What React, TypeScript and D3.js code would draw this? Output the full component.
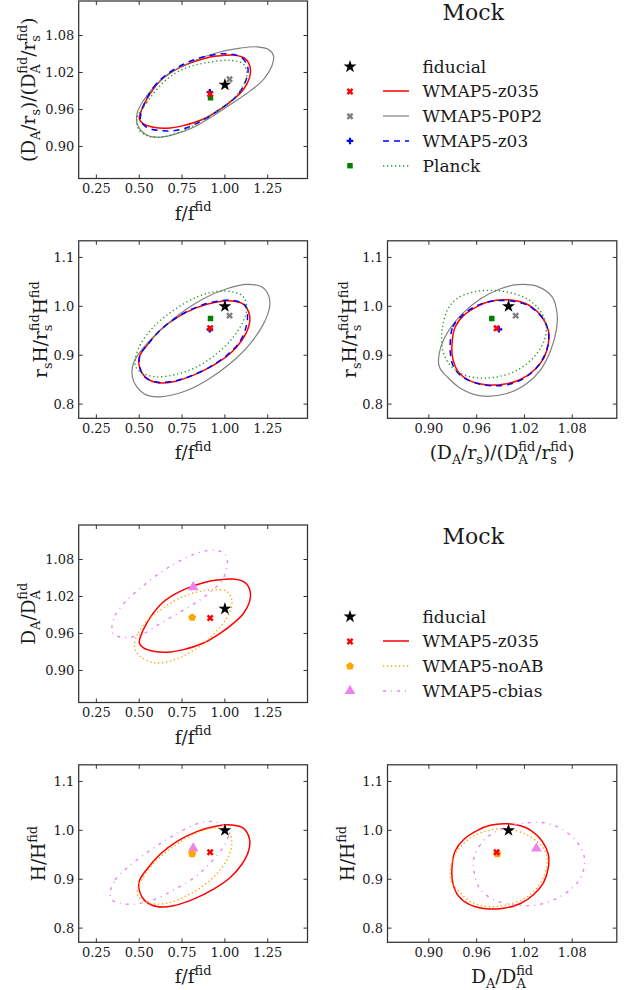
import React from 'react';
import * as d3 from 'd3';

type Pt = [number, number];

// ---- axis ranges and ticks ----
const fDomain: [number, number] = [0.147, 1.482];
const dDomain: [number, number] = [0.848, 1.136];
const hDomain: [number, number] = [0.771, 1.134];
const fTicks = [0.25, 0.5, 0.75, 1.0, 1.25];
const dTicks = [0.9, 0.96, 1.02, 1.08];
const hTicks = [0.8, 0.9, 1.0, 1.1];

// ---- best-fit points: [f/f_fid, D_A ratio, H ratio] ----
const fiducialPt = [1.0, 1.0, 1.0];
const z035Pt = [0.914, 0.985, 0.955];
const p0p2Pt = [1.027, 1.009, 0.981];
const z03Pt = [0.912, 0.988, 0.953];
const planckPt = [0.916, 0.979, 0.975];
const noabPt = [0.809, 0.986, 0.952];
const cbiasPt = [0.815, 1.035, 0.963];

// ---- 1-sigma contours in each plane ----
const z035_fD: Pt[] = [
  [0.505, 0.9526], [0.544, 0.9768], [0.622, 1.0063], [0.700, 1.0225], [0.778, 1.0332],
  [0.875, 1.0424], [0.953, 1.0467], [1.050, 1.0483], [1.118, 1.0424], [1.148, 1.0279],
  [1.144, 1.0117], [1.109, 0.9929], [1.051, 0.9768], [0.974, 0.9606], [0.875, 0.9445],
  [0.758, 0.9338], [0.661, 0.9295], [0.583, 0.9311], [0.525, 0.9365], [0.501, 0.9445],
];
const z035_fH: Pt[] = [
  [0.501, 0.8966], [0.544, 0.920], [0.622, 0.951], [0.719, 0.9769], [0.836, 0.9973],
  [0.953, 1.0088], [1.040, 1.0109], [1.109, 1.0041], [1.144, 0.9816], [1.138, 0.9578],
  [1.099, 0.9306], [1.031, 0.9034], [0.934, 0.8796], [0.817, 0.8592], [0.700, 0.8456],
  [0.602, 0.8442], [0.534, 0.8558], [0.501, 0.8762],
];
const z035_DH: Pt[] = [
  [0.929, 0.9238], [0.933, 0.9578], [0.944, 0.9816], [0.961, 1.0], [0.977, 1.0102],
  [0.994, 1.0136], [1.011, 1.0109], [1.028, 1.0], [1.042, 0.9782], [1.050, 0.951],
  [1.050, 0.9238], [1.044, 0.8932], [1.032, 0.8694], [1.015, 0.8503], [0.994, 0.8408],
  [0.969, 0.8401], [0.950, 0.849], [0.937, 0.866], [0.930, 0.8932],
];

const p0p2_fD: Pt[] = [
  [0.489, 0.9553], [0.524, 0.9741], [0.602, 1.0010], [0.700, 1.0225], [0.817, 1.0386],
  [0.953, 1.0520], [1.089, 1.0596], [1.187, 1.0617], [1.255, 1.0574], [1.284, 1.0467],
  [1.274, 1.0305], [1.226, 1.0090], [1.148, 0.9902], [1.050, 0.9714], [0.933, 0.9499],
  [0.817, 0.9311], [0.700, 0.9192], [0.602, 0.9150], [0.534, 0.9203], [0.489, 0.9365],
];
const p0p2_fH: Pt[] = [
  [0.466, 0.883], [0.505, 0.9068], [0.602, 0.9442], [0.739, 0.985], [0.875, 1.0156],
  [1.011, 1.036], [1.128, 1.0449], [1.216, 1.0395], [1.255, 1.0224], [1.261, 0.9986],
  [1.226, 0.9646], [1.148, 0.9238], [1.031, 0.883], [0.895, 0.849], [0.758, 0.8252],
  [0.622, 0.815], [0.544, 0.8184], [0.486, 0.8354], [0.460, 0.8558],
];
const p0p2_DH: Pt[] = [
  [0.912, 0.8864], [0.915, 0.917], [0.925, 0.951], [0.942, 0.985], [0.965, 1.0156],
  [0.990, 1.036], [1.011, 1.0442], [1.036, 1.0408], [1.055, 1.019], [1.061, 0.985],
  [1.060, 0.951], [1.053, 0.9102], [1.040, 0.8694], [1.023, 0.8422], [0.998, 0.8218],
  [0.965, 0.817], [0.940, 0.832], [0.923, 0.8558], [0.914, 0.8728],
];

const z03_fD: Pt[] = [
  [0.515, 0.958], [0.583, 0.9956], [0.661, 1.017], [0.778, 1.0359], [0.895, 1.0467],
  [1.011, 1.0504], [1.099, 1.044], [1.134, 1.028], [1.125, 1.009], [1.070, 0.9822],
  [0.972, 0.9606], [0.855, 0.9402], [0.739, 0.9273], [0.622, 0.9257], [0.544, 0.9311],
  [0.509, 0.9418],
];
const z03_fH: Pt[] = [
  [0.505, 0.900], [0.554, 0.9238], [0.632, 0.9544], [0.729, 0.9796], [0.846, 1.0],
  [0.963, 1.0109], [1.050, 1.0122], [1.118, 1.002], [1.132, 0.9782], [1.118, 0.951],
  [1.079, 0.9238], [1.011, 0.900], [0.914, 0.8762], [0.797, 0.8571], [0.680, 0.8456],
  [0.593, 0.8456], [0.528, 0.8571], [0.501, 0.8796],
];
const z03_DH: Pt[] = [
  [0.927, 0.9306], [0.930, 0.9578], [0.942, 0.9816], [0.961, 1.002], [0.982, 1.0109],
  [1.003, 1.0109], [1.024, 1.002], [1.040, 0.9816], [1.049, 0.9544], [1.050, 0.9238],
  [1.042, 0.8898], [1.028, 0.8626], [1.007, 0.8435], [0.986, 0.8374], [0.961, 0.8422],
  [0.942, 0.8558], [0.931, 0.8762], [0.927, 0.9034],
];

const planck_fD: Pt[] = [
  [0.486, 0.9445], [0.544, 0.9714], [0.661, 1.0090], [0.778, 1.0279], [0.895, 1.0359],
  [1.031, 1.0397], [1.109, 1.0332], [1.128, 1.0144], [1.089, 0.9902], [1.011, 0.9687],
  [0.895, 0.9472], [0.758, 0.9257], [0.622, 0.915], [0.544, 0.9176], [0.495, 0.9284],
];
const planck_fH: Pt[] = [
  [0.476, 0.8898], [0.505, 0.9204], [0.583, 0.9578], [0.700, 0.9918], [0.836, 1.019],
  [0.953, 1.0306], [1.050, 1.0293], [1.109, 1.019], [1.128, 0.9952], [1.105, 0.968],
  [1.050, 0.9374], [0.953, 0.9034], [0.836, 0.8762], [0.719, 0.8612], [0.602, 0.8558],
  [0.525, 0.8626], [0.482, 0.8748],
];
const planck_DH: Pt[] = [
  [0.916, 0.9306], [0.917, 0.9578], [0.923, 0.9918], [0.935, 1.0156], [0.956, 1.0293],
  [0.977, 1.0327], [0.998, 1.0293], [1.019, 1.019], [1.036, 0.9986], [1.047, 0.9646],
  [1.045, 0.9306], [1.032, 0.8966], [1.011, 0.8694], [0.986, 0.8558], [0.961, 0.8537],
  [0.940, 0.8626], [0.925, 0.883], [0.918, 0.9068],
];

const noab_fD: Pt[] = [
  [0.472, 0.9423], [0.495, 0.9611], [0.554, 0.9826], [0.641, 1.0014], [0.739, 1.0176],
  [0.836, 1.0272], [0.933, 1.031], [1.011, 1.0283], [1.040, 1.0149], [1.031, 0.996],
  [0.992, 0.9772], [0.933, 0.9584], [0.856, 0.9396], [0.758, 0.9234], [0.661, 0.9138],
  [0.583, 0.9127], [0.515, 0.9208], [0.480, 0.9315],
];
const noab_fH: Pt[] = [
  [0.489, 0.8782], [0.525, 0.9054], [0.602, 0.9395], [0.700, 0.9667], [0.797, 0.9884],
  [0.894, 1.002], [0.972, 1.0041], [1.027, 0.9939], [1.040, 0.9735], [1.021, 0.9463],
  [0.972, 0.919], [0.894, 0.8918], [0.797, 0.8701], [0.700, 0.8544], [0.602, 0.849],
  [0.534, 0.8544], [0.495, 0.8646],
];
const noab_DH: Pt[] = [
  [0.927, 0.9122], [0.930, 0.9395], [0.940, 0.9667], [0.956, 0.9884], [0.977, 1.0007],
  [0.998, 1.0027], [1.019, 0.9939], [1.036, 0.9769], [1.047, 0.9531], [1.048, 0.9259],
  [1.040, 0.8918], [1.024, 0.8646], [0.998, 0.8476], [0.973, 0.8442], [0.952, 0.8544],
  [0.938, 0.8748], [0.929, 0.8918],
];

const cbias_fD: Pt[] = [
  [0.340, 0.9679], [0.360, 0.9894], [0.427, 1.0136], [0.525, 1.0378], [0.641, 1.062],
  [0.758, 1.0808], [0.875, 1.0932], [0.963, 1.0943], [1.007, 1.0862], [1.011, 1.0674],
  [0.982, 1.0458], [0.914, 1.027], [0.836, 1.0109], [0.739, 0.9948], [0.622, 0.976],
  [0.525, 0.9598], [0.427, 0.9534], [0.368, 0.956], [0.343, 0.9614],
];
const cbias_fH: Pt[] = [
  [0.330, 0.8714], [0.360, 0.8986], [0.427, 0.9224], [0.525, 0.9497], [0.641, 0.9769],
  [0.758, 1.0007], [0.856, 1.0156], [0.934, 1.0177], [1.002, 1.0075], [1.021, 0.9905],
  [0.992, 0.9667], [0.914, 0.9327], [0.817, 0.902], [0.700, 0.8782], [0.583, 0.8578],
  [0.466, 0.849], [0.388, 0.851], [0.340, 0.8578],
];
const cbias_DH: Pt[] = [
  [0.956, 0.9395], [0.963, 0.9667], [0.973, 0.9857], [0.994, 1.0041], [1.019, 1.0143],
  [1.044, 1.0156], [1.065, 1.0041], [1.084, 0.9803], [1.095, 0.9463], [1.093, 0.9122],
  [1.082, 0.885], [1.061, 0.8612], [1.036, 0.8476], [1.007, 0.8476], [0.982, 0.8578],
  [0.965, 0.8782], [0.958, 0.9054],
];

// ---- model styling ----
type Plane = 'fD' | 'fH' | 'DH';
type Model = {
  name: string;
  color: string;
  lineColor: string;
  dash: string | null;
  lw: number;
  marker: string;
  msize: number;
  pt: number[];
  contours: Record<Plane, Pt[]> | null;
};

const FONT = '"DejaVu Serif", "Liberation Serif", serif';

const fiducial: Model = { name: 'fiducial', color: '#000000', lineColor: '#000000', dash: null, lw: 0, marker: 'star', msize: 52, pt: fiducialPt, contours: null };
const z035: Model = { name: 'WMAP5-z035', color: '#ff0000', lineColor: '#ff0000', dash: null, lw: 1.5, marker: 'x', msize: 30, pt: z035Pt, contours: { fD: z035_fD, fH: z035_fH, DH: z035_DH } };
const p0p2: Model = { name: 'WMAP5-P0P2', color: '#808080', lineColor: '#808080', dash: null, lw: 1.2, marker: 'x', msize: 30, pt: p0p2Pt, contours: { fD: p0p2_fD, fH: p0p2_fH, DH: p0p2_DH } };
const z03: Model = { name: 'WMAP5-z03', color: '#0000ff', lineColor: '#0000ff', dash: '6,5', lw: 1.5, marker: 'plus', msize: 24, pt: z03Pt, contours: { fD: z03_fD, fH: z03_fH, DH: z03_DH } };
const planck: Model = { name: 'Planck', color: '#008000', lineColor: '#2f962f', dash: '1.3,2.7', lw: 1.4, marker: 'square', msize: 30, pt: planckPt, contours: { fD: planck_fD, fH: planck_fH, DH: planck_DH } };
const noab: Model = { name: 'WMAP5-noAB', color: '#ffa500', lineColor: '#ffa500', dash: '1.3,2.7', lw: 1.4, marker: 'pentagon', msize: 42, pt: noabPt, contours: { fD: noab_fD, fH: noab_fH, DH: noab_DH } };
const cbias: Model = { name: 'WMAP5-cbias', color: '#ee82ee', lineColor: '#ee82ee', dash: '3,5,1,5', lw: 1.4, marker: 'triangle', msize: 50, pt: cbiasPt, contours: { fD: cbias_fD, fH: cbias_fH, DH: cbias_DH } };

const topModels = [z035, p0p2, z03, planck];
const bottomModels = [z035, noab, cbias];

// ---- marker shapes ----
const symbolPentagon = {
  draw(ctx: any, size: number) {
    const r = Math.sqrt(size / 2.378);
    for (let i = 0; i < 5; i++) {
      const a = -Math.PI / 2 + (i * 2 * Math.PI) / 5;
      const x = r * Math.cos(a);
      const y = r * Math.sin(a);
      if (i === 0) ctx.moveTo(x, y);
      else ctx.lineTo(x, y);
    }
    ctx.closePath();
  },
};

function markerPath(kind: string, size: number): { d: string; rot: number } {
  const map: Record<string, any> = {
    star: d3.symbolStar,
    x: d3.symbolCross,
    plus: d3.symbolCross,
    square: d3.symbolSquare,
    pentagon: symbolPentagon,
    triangle: d3.symbolTriangle,
  };
  const d = d3.symbol().type(map[kind]).size(size)() || '';
  return { d, rot: kind === 'x' ? 45 : 0 };
}

function Marker({ kind, size, color, x, y }: { kind: string; size: number; color: string; x: number; y: number }) {
  const { d, rot } = markerPath(kind, size);
  return <path d={d} transform={`translate(${x},${y}) rotate(${rot})`} fill={color} stroke="none" />;
}

// ---- mathtext-like labels ----
type Part = { t: string; sub?: string; sup?: string };

let measureCtx: CanvasRenderingContext2D | null = null;
function textWidth(s: string, size: number) {
  if (!measureCtx) {
    const c = document.createElement('canvas');
    measureCtx = c.getContext('2d');
  }
  if (!measureCtx) return s.length * size * 0.6;
  measureCtx.font = `${size}px "DejaVu Serif"`;
  return measureCtx.measureText(s).width;
}

function MathText({ parts, x, y, fs, rotate = 0, anchor = 'middle' }: { parts: Part[]; x: number; y: number; fs: number; rotate?: number; anchor?: string }) {
  const small = fs * 0.7;
  const subOff = fs * 0.28;
  const supOff = -fs * 0.45;
  let cur = 0;
  const spans: any[] = [];
  parts.forEach((p, i) => {
    spans.push(<tspan key={`b${i}`} dy={-cur} fontSize={fs}>{p.t}</tspan>);
    cur = 0;
    if (p.sub) {
      spans.push(<tspan key={`s${i}`} dy={subOff - cur} fontSize={small}>{p.sub}</tspan>);
      cur = subOff;
    }
    if (p.sup) {
      const back = p.sub ? -textWidth(p.sub, small) : 0;
      spans.push(<tspan key={`p${i}`} dx={back} dy={supOff - cur} fontSize={small}>{p.sup}</tspan>);
      cur = supOff;
    }
  });
  return (
    <text transform={`translate(${x},${y}) rotate(${rotate})`} textAnchor={anchor} fontFamily={FONT} fill="#1a1a1a">
      {spans}
    </text>
  );
}

const fLabel: Part[] = [{ t: 'f/f', sup: 'fid' }];
const dRsLabel: Part[] = [
  { t: '(D', sub: 'A' }, { t: '/r', sub: 's' }, { t: ')/(D', sub: 'A', sup: 'fid' }, { t: '/r', sub: 's', sup: 'fid' }, { t: ')' },
];
const hRsLabel: Part[] = [{ t: 'r', sub: 's' }, { t: 'H/r', sub: 's', sup: 'fid' }, { t: 'H', sup: 'fid' }];
const dLabel: Part[] = [{ t: 'D', sub: 'A' }, { t: '/D', sub: 'A', sup: 'fid' }];
const hLabel: Part[] = [{ t: 'H/H', sup: 'fid' }];

// ---- panel ----
type PanelSpec = {
  id: string;
  left: number;
  top: number;
  w: number;
  h: number;
  plane: Plane;
  models: Model[];
  xLabel: Part[];
  yLabel: Part[];
  yLabelX: number;
};

const planeAxes: Record<Plane, { xi: number; yi: number; xd: [number, number]; yd: [number, number]; xt: number[]; yt: number[]; xf: string; yf: string }> = {
  fD: { xi: 0, yi: 1, xd: fDomain, yd: dDomain, xt: fTicks, yt: dTicks, xf: '.2f', yf: '.2f' },
  fH: { xi: 0, yi: 2, xd: fDomain, yd: hDomain, xt: fTicks, yt: hTicks, xf: '.2f', yf: '.1f' },
  DH: { xi: 1, yi: 2, xd: dDomain, yd: hDomain, xt: dTicks, yt: hTicks, xf: '.2f', yf: '.1f' },
};

const AXIS = '#333333';
const TICK_FS = 13;
const LABEL_FS = 18.5;
const LEGEND_FS = 17;

function Panel({ spec }: { spec: PanelSpec }) {
  const ax = planeAxes[spec.plane];
  const x = d3.scaleLinear().domain(ax.xd).range([spec.left, spec.left + spec.w]);
  const y = d3.scaleLinear().domain(ax.yd).range([spec.top + spec.h, spec.top]);
  const line = d3
    .line<Pt>()
    .x((d) => x(d[0]))
    .y((d) => y(d[1]))
    .curve(d3.curveCatmullRomClosed.alpha(0.5));
  const xf = d3.format(ax.xf);
  const yf = d3.format(ax.yf);
  const bottom = spec.top + spec.h;
  const right = spec.left + spec.w;
  const tl = 4;
  const markerOrder = [...spec.models].reverse();
  return (
    <g>
      <defs>
        <clipPath id={`clip-${spec.id}`}>
          <rect x={spec.left} y={spec.top} width={spec.w} height={spec.h} />
        </clipPath>
      </defs>
      <g clipPath={`url(#clip-${spec.id})`}>
        {spec.models.map((m) => (
          <path
            key={m.name}
            d={line(m.contours![spec.plane]) || ''}
            fill="none"
            stroke={m.lineColor}
            strokeWidth={m.lw}
            strokeDasharray={m.dash || undefined}
          />
        ))}
        {markerOrder.map((m) => (
          <Marker key={m.name} kind={m.marker} size={m.msize} color={m.color} x={x(m.pt[ax.xi])} y={y(m.pt[ax.yi])} />
        ))}
        <Marker kind={fiducial.marker} size={fiducial.msize} color={fiducial.color} x={x(fiducial.pt[ax.xi])} y={y(fiducial.pt[ax.yi])} />
      </g>
      {/* ticks on all four sides, pointing inward */}
      {ax.xt.map((t) => (
        <g key={`xt${t}`}>
          <line x1={x(t)} x2={x(t)} y1={bottom} y2={bottom - tl} stroke={AXIS} strokeWidth={1} />
          <line x1={x(t)} x2={x(t)} y1={spec.top} y2={spec.top + tl} stroke={AXIS} strokeWidth={1} />
          <text x={x(t)} y={bottom + 14.5} textAnchor="middle" fontSize={TICK_FS} fontFamily={FONT} fill="#1a1a1a">
            {xf(t)}
          </text>
        </g>
      ))}
      {ax.yt.map((t) => (
        <g key={`yt${t}`}>
          <line x1={spec.left} x2={spec.left + tl} y1={y(t)} y2={y(t)} stroke={AXIS} strokeWidth={1} />
          <line x1={right} x2={right - tl} y1={y(t)} y2={y(t)} stroke={AXIS} strokeWidth={1} />
          <text x={spec.left - 4.5} y={y(t) + 4.7} textAnchor="end" fontSize={TICK_FS} fontFamily={FONT} fill="#1a1a1a">
            {yf(t)}
          </text>
        </g>
      ))}
      <rect x={spec.left} y={spec.top} width={spec.w} height={spec.h} fill="none" stroke={AXIS} strokeWidth={1.25} />
      <MathText parts={spec.xLabel} x={spec.left + spec.w / 2} y={bottom + 41} fs={LABEL_FS} />
      <MathText parts={spec.yLabel} x={spec.yLabelX} y={spec.top + spec.h / 2} fs={LABEL_FS} rotate={-90} />
    </g>
  );
}

function Legend({ title, titleY, rowY, models }: { title: string; titleY: number; rowY: number; models: Model[] }) {
  const step = 24.75;
  const all = [fiducial, ...models];
  return (
    <g>
      <text x={473.3} y={titleY} textAnchor="middle" fontSize={22} fontFamily={FONT} fill="#1a1a1a">
        {title}
      </text>
      {all.map((m, i) => {
        const cy = rowY + i * step;
        const ly = Math.round(cy);
        return (
          <g key={m.name}>
            <Marker kind={m.marker} size={m.msize} color={m.color} x={350} y={cy} />
            {m.contours && (
              <line x1={383} x2={409} y1={ly} y2={ly} stroke={m.lineColor} strokeWidth={m.lw} strokeDasharray={m.dash || undefined} />
            )}
            <text x={422.5} y={cy + 6} fontSize={LEGEND_FS} fontFamily={FONT} fill="#1a1a1a">
              {m.name}
            </text>
          </g>
        );
      })}
    </g>
  );
}

const panels: PanelSpec[] = [
  { id: 'a', left: 78.7, top: 1, w: 228.8, h: 177.5, plane: 'fD', models: topModels, xLabel: fLabel, yLabel: dRsLabel, yLabelX: 35 },
  { id: 'b', left: 78.7, top: 240.8, w: 228.8, h: 177.5, plane: 'fH', models: topModels, xLabel: fLabel, yLabel: hRsLabel, yLabelX: 47 },
  { id: 'c', left: 387.5, top: 240.8, w: 229.3, h: 177.5, plane: 'DH', models: topModels, xLabel: dRsLabel, yLabel: hRsLabel, yLabelX: 356 },
  { id: 'd', left: 78.7, top: 525, w: 228.8, h: 177.5, plane: 'fD', models: bottomModels, xLabel: fLabel, yLabel: dLabel, yLabelX: 35 },
  { id: 'e', left: 78.7, top: 764.8, w: 228.8, h: 177.5, plane: 'fH', models: bottomModels, xLabel: fLabel, yLabel: hLabel, yLabelX: 45 },
  { id: 'f', left: 387.5, top: 764.8, w: 229.3, h: 177.5, plane: 'DH', models: bottomModels, xLabel: dLabel, yLabel: hLabel, yLabelX: 354 },
];

export default function App() {
  return (
    <svg
      width={629}
      height={990}
      viewBox="0 0 629 990"
      style={{ position: 'absolute', left: 0, top: 0, background: '#ffffff' }}
    >
      <rect x={0} y={0} width={629} height={990} fill="#ffffff" />
      {panels.map((p) => (
        <Panel key={p.id} spec={p} />
      ))}
      <Legend title="Mock" titleY={19.5} rowY={66.7} models={topModels} />
      <Legend title="Mock" titleY={543.5} rowY={616.7} models={bottomModels} />
    </svg>
  );
}
